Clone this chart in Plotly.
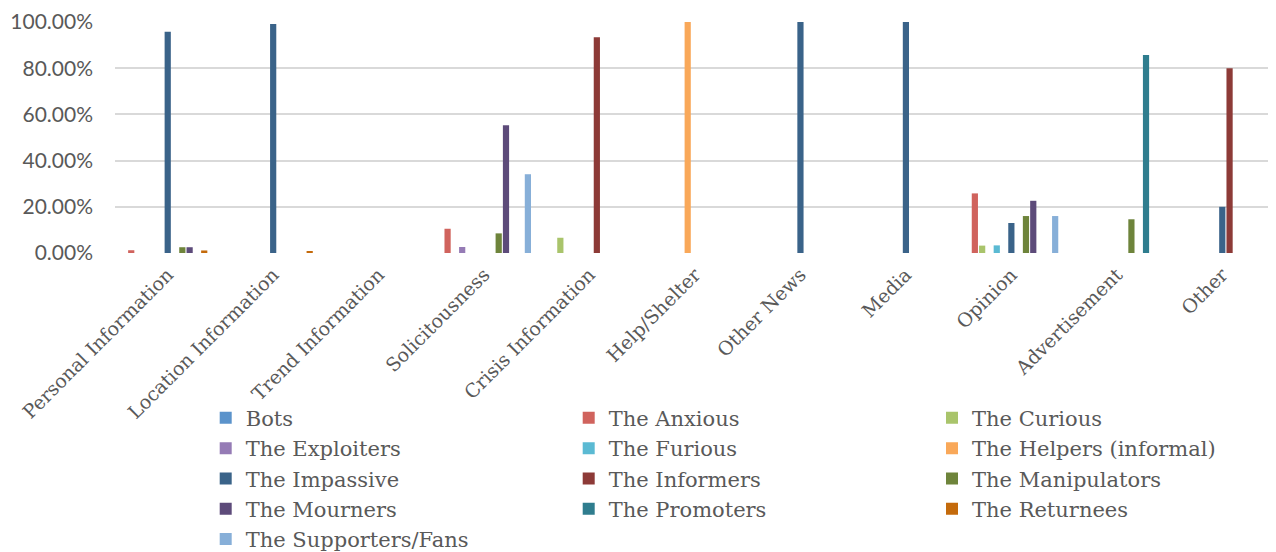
import plotly.graph_objects as go

categories = ["Personal Information", "Location Information", "Trend Information",
              "Solicitousness", "Crisis Information", "Help/Shelter", "Other News",
              "Media", "Opinion", "Advertisement", "Other"]

bots         = [0, 0, 0, 0, 0, 0, 0, 0, 0, 0, 0]
anxious      = [0.012, 0, 0, 0.105, 0, 0, 0, 0, 0.258, 0, 0]
curious      = [0, 0, 0, 0, 0.066, 0, 0, 0, 0.032, 0, 0]
exploiters   = [0, 0, 0, 0.026, 0, 0, 0, 0, 0, 0, 0]
furious      = [0, 0, 0, 0, 0, 0, 0, 0, 0.033, 0, 0]
helpers      = [0, 0, 0, 0, 0, 1.0, 0, 0, 0, 0, 0]
impassive    = [0.958, 0.991, 0, 0, 0, 0, 1.0, 1.0, 0.13, 0, 0.20]
informers    = [0, 0, 0, 0, 0.934, 0, 0, 0, 0, 0, 0.80]
manipulators = [0.025, 0, 0, 0.085, 0, 0, 0, 0, 0.16, 0.146, 0]
mourners     = [0.025, 0, 0, 0.553, 0, 0, 0, 0, 0.226, 0, 0]
promoters    = [0, 0, 0, 0, 0, 0, 0, 0, 0, 0.857, 0]
returnees    = [0.011, 0.006, 0, 0, 0, 0, 0, 0, 0, 0, 0]
supporters   = [0, 0, 0, 0.341, 0, 0, 0, 0, 0.16, 0, 0]

series = [
    ("Bots", bots, "#5B93CB"),
    ("The Anxious", anxious, "#D0635D"),
    ("The Curious", curious, "#A9C46B"),
    ("The Exploiters", exploiters, "#957BB5"),
    ("The Furious", furious, "#5BBAD3"),
    ("The Helpers (informal)", helpers, "#F9A859"),
    ("The Impassive", impassive, "#3A6389"),
    ("The Informers", informers, "#8D3A37"),
    ("The Manipulators", manipulators, "#6E843B"),
    ("The Mourners", mourners, "#5D4B7A"),
    ("The Promoters", promoters, "#2F7D8E"),
    ("The Returnees", returnees, "#C46A0B"),
    ("The Supporters/Fans", supporters, "#87AFD8"),
]

legend_ids = ["legend", "legend2", "legend3"]

W, H = 1268, 544

fig = go.Figure()
for i, (name, vals, color) in enumerate(series):
    fig.add_trace(go.Bar(name=name, x=categories, y=vals, legendgroup=name,
                         legend=legend_ids[i % 3],
                         marker=dict(color=color, line=dict(width=0))))

legend_font = dict(family="DejaVu Serif", size=21, color="#595959")
common = dict(orientation="v", xref="container", yref="container", xanchor="left",
              yanchor="top", y=1 - 389.7 / H, font=legend_font, tracegroupgap=0,
              itemclick=False, itemdoubleclick=False, bgcolor="rgba(0,0,0,0)")

fig.update_layout(
    width=W, height=H,
    barmode="group", bargap=0.1, bargroupgap=0.15,
    plot_bgcolor="white", paper_bgcolor="white",
    margin=dict(l=107, r=1, t=14, b=299, autoexpand=False),
    showlegend=True,
    legend=dict(x=197.7 / W, **common),
    legend2=dict(x=560.7 / W, **common),
    legend3=dict(x=924.0 / W, **common),
)
fig.update_yaxes(range=[0, 1], dtick=0.2, tickformat=".2%", showgrid=True,
                 gridcolor="#D9D9D9", gridwidth=1.5, zeroline=False, showline=False,
                 tickfont=dict(family="Lato", size=21, color="#595959"), ticks="",
                 ticklabelstandoff=21, automargin=False)
fig.update_xaxes(tickangle=-45, showgrid=False, zeroline=False, showline=False,
                 tickfont=dict(family="DejaVu Serif", size=19, color="#595959"),
                 ticklabelstandoff=6, automargin=False)

fig.write_html("out.html")
